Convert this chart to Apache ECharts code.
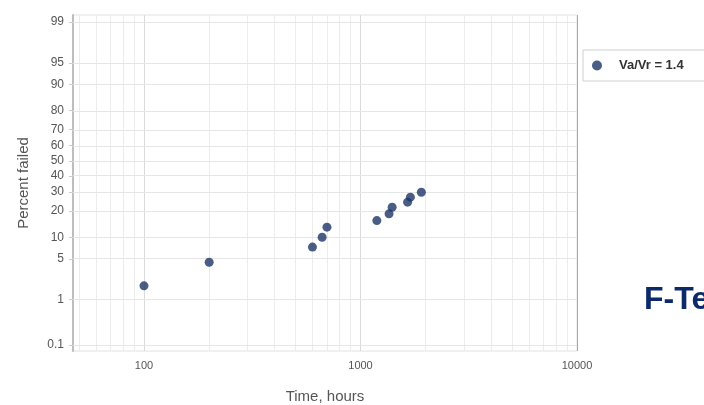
<!DOCTYPE html>
<html>
<head>
<meta charset="utf-8">
<script src="https://cdn.jsdelivr.net/npm/echarts@6/dist/echarts.min.js"></script>
<style>
  html, body { margin: 0; padding: 0; background: #fff; }
  #chart { width: 704px; height: 405px; }
</style>
</head>
<body>
<div id="chart"></div>
<script>
// Failure times (hours) and cumulative percent failed
const hours = [100, 200, 600, 665, 700, 1190, 1355, 1400, 1650, 1700, 1910];
const percentFailed = [1.8, 4.45, 7.4, 10.0, 13.3, 15.8, 18.7, 21.8, 24.4, 27.1, 29.9];
const seriesName = 'Va/Vr = 1.4';

// Probability-axis tick labels (percent)
const percentTicks = [0.1, 1, 5, 10, 20, 30, 40, 50, 60, 70, 80, 90, 95, 99];
// Vertical grid positions on the log time axis
const timeGrid = [50, 60, 70, 80, 90, 100, 200, 300, 400, 500, 600, 700, 800, 900,
                  1000, 2000, 3000, 4000, 5000, 6000, 7000, 8000, 9000, 10000];
const timeTicks = [100, 1000, 10000];

// Inverse standard normal CDF (Acklam's approximation)
function normInv(p) {
  const a = [-3.969683028665376e+01, 2.209460984245205e+02, -2.759285104469687e+02,
             1.383577518672690e+02, -3.066479806614716e+01, 2.506628277459239e+00];
  const b = [-5.447609879822406e+01, 1.615858368580409e+02, -1.556989798598866e+02,
             6.680131188771972e+01, -1.328068155288572e+01];
  const c = [-7.784894002430293e-03, -3.223964580411365e-01, -2.400758277161838e+00,
             -2.549732539343734e+00, 4.374664141464968e+00, 2.938163982698783e+00];
  const d = [7.784695709041462e-03, 3.224671290700398e-01, 2.445134137142996e+00,
             3.754408661907416e+00];
  const pl = 0.02425, ph = 1 - pl;
  let q, r;
  if (p < pl) {
    q = Math.sqrt(-2 * Math.log(p));
    return (((((c[0]*q+c[1])*q+c[2])*q+c[3])*q+c[4])*q+c[5]) /
           ((((d[0]*q+d[1])*q+d[2])*q+d[3])*q+1);
  }
  if (p <= ph) {
    q = p - 0.5; r = q * q;
    return (((((a[0]*r+a[1])*r+a[2])*r+a[3])*r+a[4])*r+a[5])*q /
           (((((b[0]*r+b[1])*r+b[2])*r+b[3])*r+b[4])*r+1);
  }
  q = Math.sqrt(-2 * Math.log(1 - p));
  return -(((((c[0]*q+c[1])*q+c[2])*q+c[3])*q+c[4])*q+c[5]) /
          ((((d[0]*q+d[1])*q+d[2])*q+d[3])*q+1);
}
const z = pct => normInv(pct / 100);

const tickZ = percentTicks.map(z);
function labelFor(v) {
  let best = 0, bd = Infinity;
  tickZ.forEach((t, i) => { const dd = Math.abs(t - v); if (dd < bd) { bd = dd; best = i; } });
  return String(percentTicks[best]);
}

const points = hours.map((h, i) => [h, z(percentFailed[i])]);

function timeLineColor(t) {
  if (t === 10000) return '#a8a8a8';
  if (t === 100 || t === 1000) return '#dadada';
  return '#ececec';
}
const gridLineData = []
  .concat(timeGrid.map(t => ({ xAxis: t, lineStyle: { color: timeLineColor(t) } })))
  .concat(percentTicks.map(p => ({ yAxis: z(p) })));

const chart = echarts.init(document.getElementById('chart'), null, { renderer: 'canvas' });
chart.setOption({
  animation: false,
  backgroundColor: '#ffffff',
  textStyle: { fontFamily: 'Liberation Sans, Arial, sans-serif' },
  grid: {
    left: 73, right: 127, top: 15, bottom: 54,
    outerBoundsMode: 'none',
    show: true, borderColor: '#e2e2e2', borderWidth: 1
  },
  xAxis: {
    type: 'log',
    logBase: 10,
    min: 47,
    max: 10000,
    name: 'Time, hours',
    nameLocation: 'middle',
    nameGap: 38,
    nameTextStyle: { fontSize: 15, color: '#555' },
    axisLine: { show: true, lineStyle: { color: '#d5d5d5' } },
    axisTick: { show: false },
    splitLine: { show: false },
    axisLabel: {
      color: '#555', fontSize: 11, margin: 9,
      showMinLabel: false,
      formatter: v => (timeTicks.indexOf(Math.round(v)) >= 0 ? String(Math.round(v)) : '')
    }
  },
  yAxis: {
    type: 'value',
    min: z(0.1) - 0.1,
    max: z(99) + 0.12,
    name: 'Percent failed',
    nameLocation: 'middle',
    nameGap: 42,
    nameTextStyle: { fontSize: 15, color: '#555' },
    axisLine: { show: true, lineStyle: { color: '#bdbdbd', width: 2 } },
    axisTick: { show: true, customValues: tickZ, length: 4, lineStyle: { color: '#ccc' } },
    splitLine: { show: false },
    axisLabel: {
      color: '#555', fontSize: 12, margin: 9,
      customValues: tickZ,
      formatter: v => labelFor(v)
    }
  },
  legend: {
    left: 583,
    top: 50,
    orient: 'vertical',
    borderColor: '#cfcfcf',
    borderWidth: 1,
    padding: [9, 60, 9, 9],
    itemWidth: 10,
    itemHeight: 10,
    itemGap: 6,
    textStyle: { fontSize: 13, color: '#333', fontWeight: 'bold', padding: [0, 0, 0, 12] },
    data: [{ name: seriesName, icon: 'circle' }]
  },
  graphic: [{
    type: 'text',
    left: 644,
    top: 284,
    style: { text: 'F-Te', fill: '#0c2a6a', font: 'bold 32px Liberation Sans, Arial, sans-serif' }
  }],
  series: [
    {
      name: 'grid',
      type: 'scatter',
      data: [],
      silent: true,
      markLine: {
        silent: true,
        symbol: 'none',
        label: { show: false },
        lineStyle: { color: '#e6e6e6', type: 'solid', width: 1 },
        data: gridLineData
      }
    },
    {
      name: seriesName,
      type: 'scatter',
      symbol: 'circle',
      symbolSize: 9,
      itemStyle: { color: '#1d3566' },
      data: points,
      z: 5
    }
  ]
});
</script>
</body>
</html>
